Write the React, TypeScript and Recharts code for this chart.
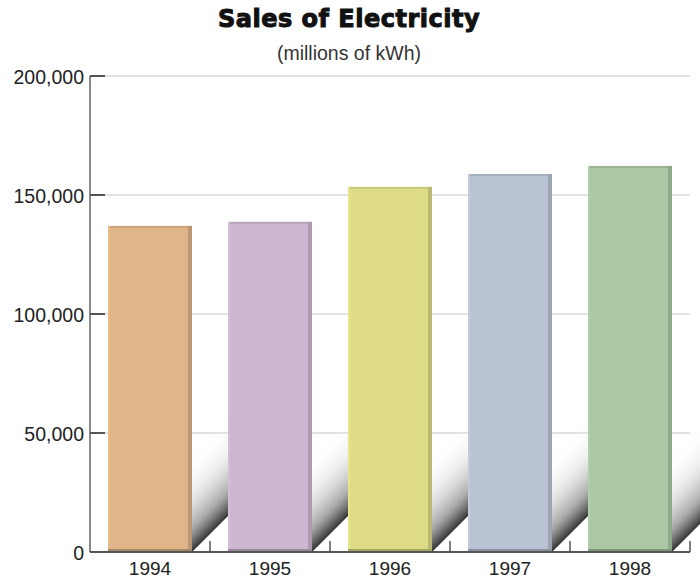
import { BarChart, Bar, XAxis, YAxis, CartesianGrid, Cell } from 'recharts'

// values (millions of kWh)
const YEARS = ['1994', '1995', '1996', '1997', '1998']
const SALES = [137000, 138700, 153400, 158800, 162200]
const Y_TICKS = [0, 50000, 100000, 150000, 200000]

const COLORS = ['#DFB589', '#CDB6CF', '#DEDC86', '#B9C3D4', '#AAC8A3']

const W = 700
const H = 584
const M = { top: 76, right: 10, left: 0, bottom: 0 }
const Y_AXIS_W = 90
const X_AXIS_H = 32
const PLOT_W = W - Y_AXIS_W - M.left - M.right
const HALF_BAND = PLOT_W / YEARS.length / 2

const data = YEARS.map((year, i) => ({ year, sales: SALES[i] }))

function shade(hex: string, f: number): string {
  const n = parseInt(hex.slice(1), 16)
  const r = Math.round(((n >> 16) & 255) * f)
  const g = Math.round(((n >> 8) & 255) * f)
  const b = Math.round((n & 255) * f)
  return `rgb(${Math.min(r, 255)},${Math.min(g, 255)},${Math.min(b, 255)})`
}

function YTick({ x, y, payload }: any) {
  return (
    <g>
      <line x1={x + 6} x2={x + 21} y1={y} y2={y} stroke="#555" strokeWidth={2} />
      <text x={x} y={y} dy="0.4em" textAnchor="end" fontSize={19.5} fill="#222" fontFamily="'Liberation Sans', Arial, sans-serif">
        {Number(payload.value).toLocaleString('en-US')}
      </text>
    </g>
  )
}

function XTick({ x, y, payload }: any) {
  const base = y - 10
  return (
    <g>
      <line x1={x + HALF_BAND} x2={x + HALF_BAND} y1={base} y2={base - 11} stroke="#555" strokeWidth={1.5} />
      <text x={x} y={y} dy="0.71em" textAnchor="middle" fontSize={19} fill="#222" fontFamily="'Liberation Sans', Arial, sans-serif">
        {payload.value}
      </text>
    </g>
  )
}

// flat bar with a bevelled edge and a soft cast shadow to the lower right
function ShadedBar(props: any) {
  const { x, y, width, height, index } = props
  if (height <= 0) return null
  const color = COLORS[index % COLORS.length]
  const right = x + width
  const base = y + height
  const d = 44
  const bx = right + d / 2
  const by = base - d / 2
  const id = `shadow-${index}`
  return (
    <g>
      <defs>
        <linearGradient id={id} gradientUnits="userSpaceOnUse" x1={bx - 50} y1={by - 50} x2={bx} y2={by}>
          <stop offset="0" stopColor="#ffffff" stopOpacity={0} />
          <stop offset="0.4" stopColor="#bbb" stopOpacity={0.25} />
          <stop offset="0.75" stopColor="#777" stopOpacity={0.6} />
          <stop offset="1" stopColor="#222" stopOpacity={0.92} />
        </linearGradient>
      </defs>
      <polygon
        points={`${right},${base} ${right + d},${base - d} ${right + d},${base - d - 110} ${right},${base - 110}`}
        fill={`url(#${id})`}
      />
      <rect x={x} y={y} width={width} height={height} fill={color} />
      <rect x={x} y={y} width={width} height={2} fill={shade(color, 0.9)} />
      <rect x={x} y={y} width={2} height={height} fill={shade(color, 1.04)} />
      <rect x={right - 4} y={y} width={4} height={height} fill={shade(color, 0.84)} />
      <rect x={x} y={base - 3} width={width} height={3} fill={shade(color, 0.75)} />
    </g>
  )
}

export default function App() {
  return (
    <div style={{ position: 'absolute', left: 0, top: 0, width: W, height: H, background: '#fff' }}>
      <div
        style={{
          position: 'absolute', left: 0, top: 7, width: W - 2, textAlign: 'center',
          fontFamily: "'DejaVu Sans', sans-serif", fontWeight: 'bold', fontSize: 24, lineHeight: '24px',
          letterSpacing: 0.5, color: '#111', WebkitTextStroke: '1px #111',
        }}
      >
        Sales of Electricity
      </div>
      <div
        style={{
          position: 'absolute', left: 0, top: 44, width: W - 2, textAlign: 'center',
          fontFamily: "'Liberation Sans', Arial, sans-serif", fontSize: 19.5, lineHeight: '19px', color: '#333',
        }}
      >
        (millions of kWh)
      </div>
      <div style={{ position: 'absolute', left: 0, top: 0 }}>
        <BarChart width={W} height={H} data={data} margin={M} barCategoryGap="15%">
          <CartesianGrid horizontal vertical={false} stroke="#d8d8d8" strokeWidth={1.5} />
          <XAxis
            dataKey="year"
            height={X_AXIS_H}
            interval={0}
            tickSize={0}
            tickMargin={10}
            tickLine={false}
            axisLine={{ stroke: '#555', strokeWidth: 2 }}
            tick={(p: any) => <XTick {...p} />}
          />
          <YAxis
            width={Y_AXIS_W}
            domain={[0, 200000]}
            ticks={Y_TICKS}
            tickSize={0}
            tickMargin={6}
            tickLine={false}
            axisLine={{ stroke: '#888', strokeWidth: 2 }}
            tick={(p: any) => <YTick {...p} />}
          />
          <Bar dataKey="sales" isAnimationActive={false} shape={(p: any) => <ShadedBar {...p} />}>
            {data.map((d, i) => (
              <Cell key={d.year} fill={COLORS[i]} />
            ))}
          </Bar>
        </BarChart>
      </div>
    </div>
  )
}
